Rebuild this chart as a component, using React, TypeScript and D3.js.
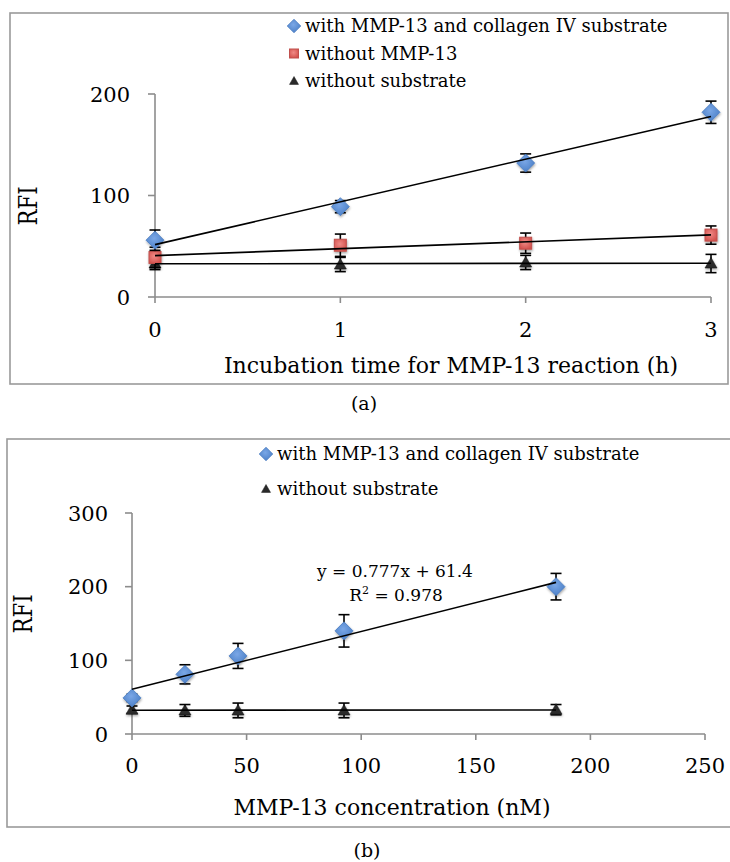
import React from "react";
import * as d3 from "d3";

// ---- Panel (a) data ----
const timeHours = [0, 1, 2, 3];
const timeTicks = [0, 1, 2, 3];
const rfiTicksA = [0, 100, 200];
const withSubA = [56, 89, 132, 182];
const withSubAErr = [10, 6, 9, 11];
const noMmpA = [39, 51, 53, 61];
const noMmpAErr = [10, 11, 10, 9];
const noSubA = [33, 32, 34, 33];
const noSubAErr = [6, 7, 7, 9];
const legendA = ["with MMP-13 and collagen IV substrate", "without MMP-13", "without substrate"];

// ---- Panel (b) data ----
const concNM = [0, 23.1, 46.25, 92.5, 185];
const concTicks = [0, 50, 100, 150, 200, 250];
const rfiTicksB = [0, 100, 200, 300];
const withSubB = [49, 81, 106, 140, 200];
const withSubBErr = [5, 13, 17, 22, 18];
const noSubB = [33, 32, 32, 32, 33];
const noSubBErr = [5, 8, 10, 10, 7];
const legendB = ["with MMP-13 and collagen IV substrate", "without substrate"];
const eqLine1 = "y = 0.777x + 61.4";
const eqR2 = "0.978";

const FONT = "'DejaVu Serif', serif";
const AXIS = "#8c8c8c";
const INK = "#000";

function fit(xs: number[], ys: number[]) {
  const mx = d3.mean(xs) as number;
  const my = d3.mean(ys) as number;
  let sxy = 0, sxx = 0;
  xs.forEach((x, i) => { sxy += (x - mx) * (ys[i] - my); sxx += (x - mx) ** 2; });
  const b = sxy / sxx;
  return { slope: b, intercept: my - b * mx };
}

type Kind = "diamond" | "square" | "triangle";

function Marker({ kind, x, y, s = 1 }: { kind: Kind; x: number; y: number; s?: number }) {
  if (kind === "diamond") {
    const r = 9 * s;
    return <path d={`M${x},${y - r}L${x + r},${y}L${x},${y + r}L${x - r},${y}Z`} fill="url(#gBlue)" stroke="#4a7cc0" strokeWidth={0.8} />;
  }
  if (kind === "square") {
    const h = 6 * s;
    return <rect x={x - h} y={y - h} width={2 * h} height={2 * h} fill="url(#gRed)" stroke="#c0504d" strokeWidth={1} />;
  }
  const w = 6 * s;
  return <path d={`M${x},${y - w}L${x + w},${y + w * 0.75}L${x - w},${y + w * 0.75}Z`} fill="#2a2a2a" stroke="#111" strokeWidth={0.5} />;
}

function Series({ xs, ys, errs, kind, xScale, yScale }: any) {
  const cap = 5.5;
  return (
    <g>
      {xs.map((xv: number, i: number) => {
        const cx = xScale(xv);
        const y1 = yScale(ys[i] + errs[i]);
        const y2 = yScale(ys[i] - errs[i]);
        return (
          <g key={"e" + i} stroke="#000" strokeWidth={1.6}>
            <line x1={cx} x2={cx} y1={y1} y2={y2} />
            <line x1={cx - cap} x2={cx + cap} y1={y1} y2={y1} />
            <line x1={cx - cap} x2={cx + cap} y1={y2} y2={y2} />
          </g>
        );
      })}
      <g filter="url(#shadow)">
        {xs.map((xv: number, i: number) => (
          <Marker key={"m" + i} kind={kind} x={xScale(xv)} y={yScale(ys[i])} />
        ))}
      </g>
    </g>
  );
}

function Trend({ xs, ys, xScale, yScale }: any) {
  const { slope, intercept } = fit(xs, ys);
  const ends = [xs[0], xs[xs.length - 1]];
  const line = d3.line<number>().x((d) => xScale(d)).y((d) => yScale(slope * d + intercept));
  return <path d={line(ends) as string} fill="none" stroke="#000" strokeWidth={1.6} />;
}

function Axes({ xScale, yScale, xTicks, yTicks, labelOffY, labelOffX }: any) {
  const [x0] = xScale.range();
  const [y0, y1] = yScale.range();
  return (
    <g>
      <line x1={x0} x2={x0} y1={y0} y2={y1} stroke={AXIS} strokeWidth={1.6} />
      <line x1={x0} x2={xScale(xTicks[xTicks.length - 1])} y1={y0} y2={y0} stroke={AXIS} strokeWidth={1.6} />
      {yTicks.map((t: number) => (
        <g key={"y" + t}>
          <line x1={x0 - 7} x2={x0} y1={yScale(t)} y2={yScale(t)} stroke={AXIS} strokeWidth={1.6} />
          <text x={x0 - labelOffX} y={yScale(t)} dy="0.36em" textAnchor="end" fontSize={21} fontFamily={FONT} fill={INK}>{t}</text>
        </g>
      ))}
      {xTicks.map((t: number) => (
        <g key={"x" + t}>
          <line x1={xScale(t)} x2={xScale(t)} y1={y0} y2={y0 + 6} stroke={AXIS} strokeWidth={1.6} />
          <text x={xScale(t)} y={y0 + labelOffY} textAnchor="middle" fontSize={21} fontFamily={FONT} fill={INK}>{t}</text>
        </g>
      ))}
    </g>
  );
}

export default function App() {
  const xA = d3.scaleLinear().domain([0, 3]).range([155, 711]);
  const yA = d3.scaleLinear().domain([0, 200]).range([297, 94]);
  const xB = d3.scaleLinear().domain([0, 250]).range([132, 705]);
  const yB = d3.scaleLinear().domain([0, 300]).range([734, 513]);

  const kindsA: Kind[] = ["diamond", "square", "triangle"];
  const kindsB: Kind[] = ["diamond", "triangle"];

  return (
    <svg width={730} height={862} style={{ position: "absolute", left: 0, top: 0, background: "#fff" }}>
      <defs>
        <radialGradient id="gBlue" cx="45%" cy="40%" r="65%">
          <stop offset="0%" stopColor="#7aa7e6" />
          <stop offset="100%" stopColor="#4a7ec6" />
        </radialGradient>
        <radialGradient id="gRed" cx="45%" cy="40%" r="65%">
          <stop offset="0%" stopColor="#f08a86" />
          <stop offset="100%" stopColor="#d2504c" />
        </radialGradient>
        <filter id="shadow" x="-50%" y="-50%" width="200%" height="200%">
          <feDropShadow dx="0.5" dy="1.5" stdDeviation="1.2" floodColor="#000" floodOpacity="0.35" />
        </filter>
      </defs>
      <rect width={730} height={862} fill="#fff" />

      {/* Panel (a) */}
      <rect x={10} y={13} width={718} height={371} fill="none" stroke="#9a9a9a" strokeWidth={1.6} />
      {legendA.map((t, i) => (
        <g key={"la" + i}>
          <Marker kind={kindsA[i]} x={294} y={26 + i * 27.5} s={0.75} />
          <text x={305} y={26 + i * 27.5} dy="0.35em" fontSize={18} fontFamily={FONT} fill={INK}>{t}</text>
        </g>
      ))}
      <Axes xScale={xA} yScale={yA} xTicks={timeTicks} yTicks={rfiTicksA} labelOffY={40} labelOffX={25} />
      <Series xs={timeHours} ys={noSubA} errs={noSubAErr} kind="triangle" xScale={xA} yScale={yA} />
      <Series xs={timeHours} ys={noMmpA} errs={noMmpAErr} kind="square" xScale={xA} yScale={yA} />
      <Series xs={timeHours} ys={withSubA} errs={withSubAErr} kind="diamond" xScale={xA} yScale={yA} />
      <Trend xs={timeHours} ys={noSubA} xScale={xA} yScale={yA} />
      <Trend xs={timeHours} ys={noMmpA} xScale={xA} yScale={yA} />
      <Trend xs={timeHours} ys={withSubA} xScale={xA} yScale={yA} />
      <text x={451} y={373} textAnchor="middle" fontSize={22} fontFamily={FONT} fill={INK}>Incubation time for MMP-13 reaction (h)</text>
      <text transform="translate(28,206) rotate(-90)" textAnchor="middle" dy="0.35em" fontSize={26} textLength={39} lengthAdjust="spacingAndGlyphs" fontFamily={FONT} fill={INK}>RFI</text>
      <text x={364} y={403} dy="0.35em" textAnchor="middle" fontSize={19} fontFamily={FONT} fill={INK}>(a)</text>

      {/* Panel (b) */}
      <rect x={7} y={439} width={730} height={388} fill="none" stroke="#9a9a9a" strokeWidth={1.6} />
      {legendB.map((t, i) => (
        <g key={"lb" + i}>
          <Marker kind={kindsB[i]} x={266} y={454 + i * 35} s={0.75} />
          <text x={277} y={454 + i * 35} dy="0.35em" fontSize={18} fontFamily={FONT} fill={INK}>{t}</text>
        </g>
      ))}
      <Axes xScale={xB} yScale={yB} xTicks={concTicks} yTicks={rfiTicksB} labelOffY={39} labelOffX={24} />
      <Series xs={concNM} ys={noSubB} errs={noSubBErr} kind="triangle" xScale={xB} yScale={yB} />
      <Series xs={concNM} ys={withSubB} errs={withSubBErr} kind="diamond" xScale={xB} yScale={yB} />
      <Trend xs={concNM} ys={noSubB} xScale={xB} yScale={yB} />
      <Trend xs={concNM} ys={withSubB} xScale={xB} yScale={yB} />
      <text x={395} y={577} textAnchor="middle" fontSize={17} fontFamily={FONT} fill={INK}>{eqLine1}</text>
      <text x={396} y={601} textAnchor="middle" fontSize={17} fontFamily={FONT} fill={INK}>
        R<tspan dy="-7" fontSize={11}>2</tspan><tspan dy="7"> = {eqR2}</tspan>
      </text>
      <text x={392} y={815} textAnchor="middle" fontSize={22} fontFamily={FONT} fill={INK}>MMP-13 concentration (nM)</text>
      <text transform="translate(23,614) rotate(-90)" textAnchor="middle" dy="0.35em" fontSize={26} textLength={39} lengthAdjust="spacingAndGlyphs" fontFamily={FONT} fill={INK}>RFI</text>
      <text x={367} y={850} dy="0.35em" textAnchor="middle" fontSize={19} fontFamily={FONT} fill={INK}>(b)</text>
    </svg>
  );
}
